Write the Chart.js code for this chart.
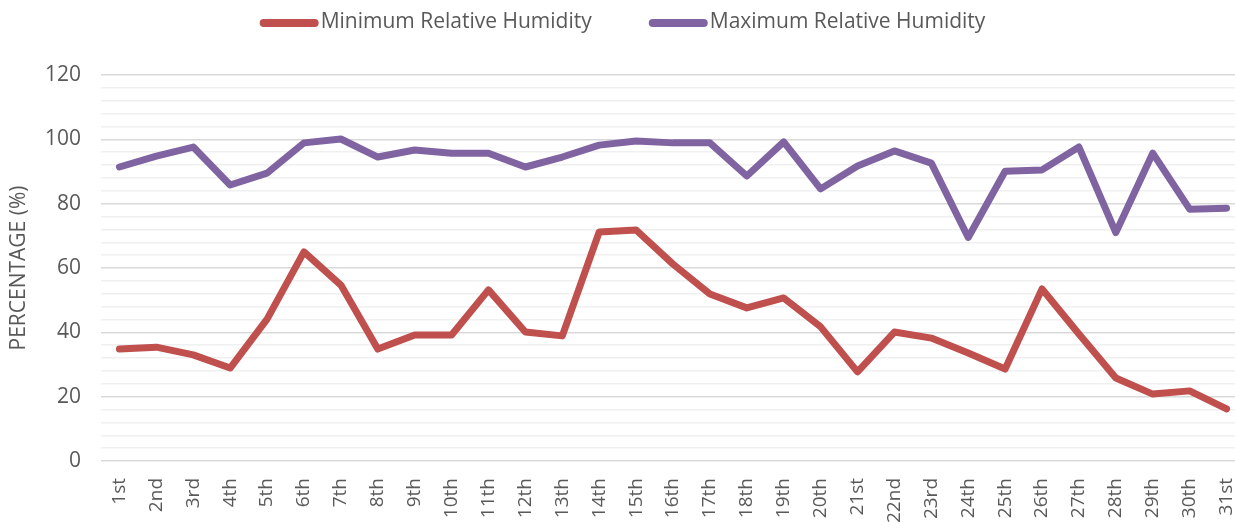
<!DOCTYPE html>
<html>
<head>
<meta charset="utf-8">
<script src="https://cdn.jsdelivr.net/npm/chart.js@4"></script>
<style>
html,body{margin:0;padding:0;background:#fff;overflow:hidden;width:1235px;height:522px;}
#wrap{width:1245px;height:522px;}
</style>
</head>
<body>
<div id="wrap"><canvas id="c" width="1245" height="522"></canvas></div>
<script>
const days = ["1st","2nd","3rd","4th","5th","6th","7th","8th","9th","10th","11th","12th","13th","14th","15th","16th","17th","18th","19th","20th","21st","22nd","23rd","24th","25th","26th","27th","28th","29th","30th","31st"];
const minHumidity = [34.8,35.4,33.0,28.9,44.1,65.0,54.7,34.8,39.2,39.2,53.2,40.1,38.9,71.2,71.8,61.2,51.9,47.6,50.7,41.7,27.7,40.1,38.2,33.6,28.6,53.5,39.5,25.8,20.8,21.8,16.2];
const maxHumidity = [91.4,94.8,97.6,85.8,89.5,98.9,100.1,94.5,96.7,95.7,95.7,91.4,94.5,98.2,99.5,98.9,98.9,88.6,99.2,84.6,91.7,96.4,92.6,69.5,90.1,90.5,97.6,71.0,95.7,78.3,78.6];
const yMin = 0, yMax = 120, yMajor = 20, yMinor = 4;
const seriesNames = ["Minimum Relative Humidity","Maximum Relative Humidity"];
const textColor = "#595959";
const fontFamily = "'Open Sans', 'Liberation Sans', sans-serif";

// Legend drawn from the datasets (line sample + label), centred at the top
const topLegend = {
  id: 'topLegend',
  afterDraw(chart) {
    const ctx = chart.ctx;
    const sample = 59, gapText = 2, gapItem = 57, cy = 23;
    ctx.save();
    ctx.font = "21px " + fontFamily;
    const items = chart.data.datasets.map(ds => ({ds, w: ctx.measureText(ds.label).width}));
    let total = 0;
    items.forEach((it, i) => { total += sample + gapText + it.w + (i ? gapItem : 0); });
    let x = chart.width / 2 - total / 2;
    items.forEach((it, i) => {
      if (i) x += gapItem;
      ctx.strokeStyle = it.ds.borderColor;
      ctx.lineWidth = 8;
      ctx.lineCap = 'round';
      ctx.beginPath();
      ctx.moveTo(x + 4, cy);
      ctx.lineTo(x + sample - 4, cy);
      ctx.stroke();
      x += sample + gapText;
      ctx.fillStyle = textColor;
      ctx.textBaseline = 'middle';
      ctx.textAlign = 'left';
      ctx.fillText(it.ds.label, x, cy - 1);
      x += it.w;
    });
    ctx.restore();
  }
};

new Chart(document.getElementById('c'), {
  type: 'line',
  data: {
    labels: days,
    datasets: [
      {label: seriesNames[0], data: minHumidity, borderColor: '#C0504D', backgroundColor: '#C0504D',
       borderWidth: 7, pointRadius: 0, borderCapStyle: 'round', borderJoinStyle: 'round', tension: 0},
      {label: seriesNames[1], data: maxHumidity, borderColor: '#8064A2', backgroundColor: '#8064A2',
       borderWidth: 7, pointRadius: 0, borderCapStyle: 'round', borderJoinStyle: 'round', tension: 0}
    ]
  },
  plugins: [topLegend],
  options: {
    responsive: false,
    animation: false,
    layout: {padding: {top: 75, left: 0, right: 0, bottom: 0}},
    plugins: {
      tooltip: {enabled: false},
      legend: {display: false}
    },
    scales: {
      x: {
        offset: true,
        grid: {display: false},
        border: {display: false},
        ticks: {
          color: textColor,
          font: {family: fontFamily, size: 19},
          minRotation: 90, maxRotation: 90,
          autoSkip: false,
          padding: 9
        },
        afterFit: s => { s.height = 61; s.paddingLeft = 0; s.paddingRight = 0; }
      },
      y: {
        min: yMin, max: yMax,
        border: {display: false},
        grid: {
          drawTicks: false,
          lineWidth: 1.5,
          color: ctx => (ctx.tick && ctx.tick.value % yMajor === 0) ? '#d9d9d9' : '#f0f0f0'
        },
        ticks: {
          stepSize: yMinor,
          autoSkip: false,
          color: textColor,
          font: {family: fontFamily, size: 21},
          padding: 20,
          callback: v => (v % yMajor === 0) ? String(v) : ''
        },
        title: {
          display: true,
          text: 'PERCENTAGE (%)',
          color: textColor,
          font: {family: fontFamily, size: 21},
          padding: {top: 6, bottom: 0}
        },
        afterFit: s => { s.width = 101; }
      }
    }
  }
});
</script>
</body>
</html>
